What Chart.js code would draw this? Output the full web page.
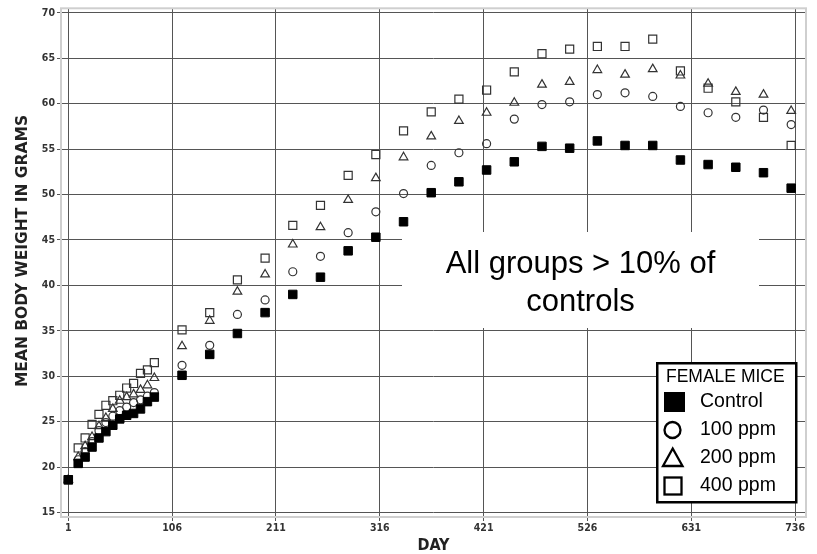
<!DOCTYPE html>
<html>
<head>
<meta charset="utf-8">
<script src="https://cdn.jsdelivr.net/npm/chart.js@4/dist/chart.umd.min.js"></script>
<style>
  body { margin: 0; background: #fff; }
  canvas { display: block; }
</style>
</head>
<body>
<canvas id="weights" width="817" height="554"></canvas>
<script>
// days on study (weekly for the first 13 weeks, then every 4 weeks)
const days = [1, 11, 18, 25, 32, 39, 46, 53, 60, 67, 74, 81, 88,
  116, 144, 172, 200, 228, 256, 284, 312, 340, 368, 396, 424, 452,
  480, 508, 536, 564, 592, 620, 648, 676, 704, 732];

const control = [18.6, 20.4, 21.1, 22.2, 23.2, 23.9, 24.6, 25.3, 25.7, 25.9, 26.4, 27.2, 27.7,
  30.1, 32.4, 34.7, 37.0, 39.0, 40.9, 43.8, 45.3, 47.0, 50.2, 51.4, 52.7, 53.6,
  55.3, 55.1, 55.9, 55.4, 55.4, 53.8, 53.3, 53.0, 52.4, 50.7];
const ppm100 = [18.6, 20.8, 21.7, 22.8, 24.0, 24.9, 25.6, 26.2, 26.6, 27.1, 27.4, 27.8, 28.2,
  31.2, 33.4, 36.8, 38.4, 41.5, 43.2, 45.8, 48.1, 50.1, 53.2, 54.6, 55.6, 58.3,
  59.9, 60.2, 61.0, 61.2, 60.8, 59.7, 59.0, 58.5, 59.3, 57.7];
const ppm200 = [18.6, 21.1, 22.3, 23.3, 24.5, 25.4, 26.4, 27.3, 27.7, 28.0, 28.5, 29.0, 29.8,
  33.3, 36.1, 39.3, 41.2, 44.5, 46.4, 49.4, 51.8, 54.1, 56.4, 58.1, 59.0, 60.1,
  62.1, 62.4, 63.7, 63.2, 63.8, 63.1, 62.2, 61.3, 61.0, 59.2];
const ppm400 = [18.6, 22.1, 23.2, 24.7, 25.8, 26.8, 27.3, 27.9, 28.7, 29.2, 30.3, 30.7, 31.5,
  35.1, 37.0, 40.6, 43.0, 46.6, 48.8, 52.1, 54.4, 57.0, 59.1, 60.5, 61.5, 63.5,
  65.5, 66.0, 66.3, 66.3, 67.1, 63.6, 61.7, 60.2, 58.5, 55.4];

const groupNames = ["Control", "100 ppm", "200 ppm", "400 ppm"];
const dayTicks = [1, 106, 211, 316, 421, 526, 631, 736];
const weightTicks = [15, 20, 25, 30, 35, 40, 45, 50, 55, 60, 65, 70];

const toPoints = vals => vals.map((v, i) => ({ x: days[i], y: v }));

const tickFont = { family: "'DejaVu Sans Condensed', 'DejaVu Sans'", size: 10.5, weight: 'bold' };

// white note box, legend box, y title and frame
const boxes = {
  id: 'boxes',
  beforeDatasetsDraw(chart) {
    const ctx = chart.ctx;
    ctx.save();
    // note
    ctx.fillStyle = '#fff';
    ctx.fillRect(402, 232, 357, 96);
    ctx.fillStyle = '#000';
    ctx.font = "31px 'Liberation Sans', Arial, sans-serif";
    ctx.textAlign = 'center';
    ctx.textBaseline = 'alphabetic';
    ctx.fillText('All groups > 10% of', 580.5, 273);
    ctx.fillText('controls', 580.5, 310.5);

    // legend
    ctx.fillStyle = '#fff';
    ctx.fillRect(657, 363, 139, 139);
    ctx.strokeStyle = '#000';
    ctx.lineWidth = 2.5;
    ctx.strokeRect(657.25, 363.25, 139, 139);
    ctx.fillStyle = '#000';
    ctx.textAlign = 'left';
    ctx.textBaseline = 'middle';
    ctx.font = "17.5px 'Liberation Sans', Arial, sans-serif";
    ctx.fillText('FEMALE MICE', 666, 377);
    ctx.font = "19.5px 'Liberation Sans', Arial, sans-serif";
    const rows = [402, 430, 457.5, 486];
    groupNames.forEach((name, i) => ctx.fillText(name, 700, rows[i]));

    ctx.lineWidth = 2.3;
    ctx.fillRect(664, rows[0] - 10, 21, 20);
    ctx.beginPath();
    ctx.arc(672.5, rows[1], 8, 0, Math.PI * 2);
    ctx.stroke();
    ctx.beginPath();
    ctx.moveTo(672.7, rows[2] - 9);
    ctx.lineTo(682.5, rows[2] + 8.5);
    ctx.lineTo(663, rows[2] + 8.5);
    ctx.closePath();
    ctx.stroke();
    ctx.strokeRect(664.5, rows[3] - 8.5, 17, 17);
    ctx.restore();
  },
  afterDraw(chart) {
    const a = chart.chartArea;
    const ctx = chart.ctx;
    ctx.save();
    ctx.strokeStyle = '#cfcfcf';
    ctx.lineWidth = 2;
    ctx.strokeRect(a.left, a.top, a.right - a.left, a.bottom - a.top);

    // y axis title (sits a bit above the plot centre in the original)
    ctx.translate(23, 251);
    ctx.rotate(-Math.PI / 2);
    ctx.fillStyle = '#222';
    ctx.font = "bold 15.5px 'DejaVu Sans'";
    ctx.textAlign = 'center';
    ctx.textBaseline = 'middle';
    ctx.fillText('MEAN BODY WEIGHT IN GRAMS', 0, 0);
    ctx.restore();
  }
};

const openStyle = { backgroundColor: 'rgba(0,0,0,0)', borderColor: '#333', borderWidth: 1.2 };

new Chart(document.getElementById('weights').getContext('2d'), {
  type: 'scatter',
  data: {
    datasets: [
      { label: groupNames[0], data: toPoints(control), pointStyle: 'rect', pointRadius: 6,
        backgroundColor: '#000', borderColor: '#000', borderWidth: 1 },
      Object.assign({ label: groupNames[1], data: toPoints(ppm100), pointStyle: 'circle', pointRadius: 4 }, openStyle),
      Object.assign({ label: groupNames[2], data: toPoints(ppm200), pointStyle: 'triangle', pointRadius: 5 }, openStyle),
      Object.assign({ label: groupNames[3], data: toPoints(ppm400), pointStyle: 'rect', pointRadius: 5.7 }, openStyle)
    ]
  },
  options: {
    responsive: false,
    animation: false,
    devicePixelRatio: 1,
    layout: { padding: { top: 6, right: 11, left: 0, bottom: 0 } },
    plugins: { legend: { display: false }, tooltip: { enabled: false } },
    scales: {
      x: {
        type: 'linear',
        min: -6.4,
        max: 747,
        afterBuildTicks: s => { s.ticks = dayTicks.map(v => ({ value: v })); },
        afterFit: s => { s.height = 37; },
        grid: { color: '#555', lineWidth: 1, tickLength: 4, tickColor: '#555' },
        border: { display: false },
        ticks: { color: '#333', font: tickFont, padding: 1, maxRotation: 0, autoSkip: false },
        title: {
          display: true, text: 'DAY', color: '#222',
          font: { family: "'DejaVu Sans Condensed', 'DejaVu Sans'", size: 16, weight: 'bold', lineHeight: 1 },
          padding: { top: 0, bottom: 0 }
        }
      },
      y: {
        min: 14.5,
        max: 70.5,
        afterBuildTicks: s => { s.ticks = weightTicks.map(v => ({ value: v })); },
        afterFit: s => { s.width = 61; },
        grid: { color: '#555', lineWidth: 1, tickLength: 4, tickColor: '#555' },
        border: { display: false },
        ticks: { color: '#333', font: tickFont, padding: 2, autoSkip: false }
      }
    }
  },
  plugins: [boxes]
});
</script>
</body>
</html>
